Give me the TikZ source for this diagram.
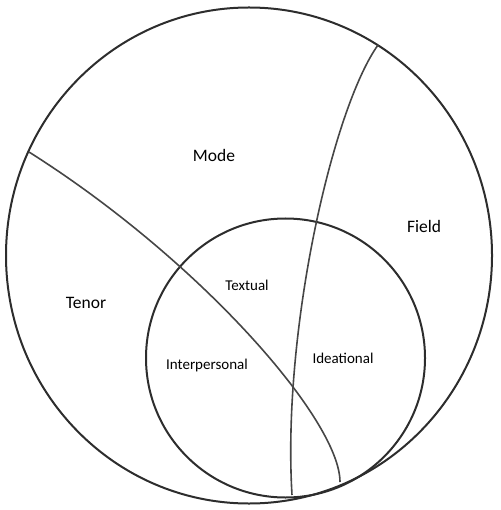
\documentclass[tikz,border=0pt]{standalone}
\usepackage{fontspec}
\setmainfont{Carlito}
\usepackage{tikz}

\begin{document}
\begin{tikzpicture}[x=1pt,y=1pt,yscale=-1,
  ring/.style={color={rgb, 255:red, 45; green, 45; blue, 45 },line width=2},
  divider/.style={color={rgb, 255:red, 70; green, 70; blue, 70 },line width=1.6},
  biglabel/.style={inner sep=0.75pt,font=\fontsize{17.5}{20}\selectfont},
  smalllabel/.style={inner sep=0.75pt,font=\fontsize{15}{18}\selectfont}]
\path[use as bounding box] (0,0) rectangle (500,510);

%Shape: Circle (context)
\draw [ring] (249,255.5) ellipse (243 and 248);
%Shape: Circle (metafunctions)
\draw [ring] (285.5,358) circle (139.5);
%Curve Lines (mode / tenor)
\draw [divider] (29,152) .. controls (200,260) and (340,420) .. (340,482);
%Curve Lines (mode / field)
\draw [divider] (378,45) .. controls (333,108) and (282,330) .. (292,495);

% Text Node
\node [biglabel] (mode) at (214,155) {Mode};
% Text Node
\node [biglabel] (field) at (424,226) {Field};
% Text Node
\node [biglabel] (tenor) at (86,303) {Tenor};
% Text Node
\node [smalllabel] (textual) at (247,285) {Textual};
% Text Node
\node [smalllabel] (interpersonal) at (207,365) {Interpersonal};
% Text Node
\node [smalllabel] (ideational) at (343,358) {Ideational};

\end{tikzpicture}
\end{document}
